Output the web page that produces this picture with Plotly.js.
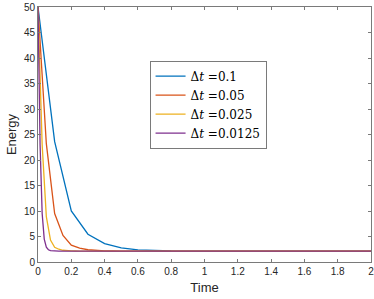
<!DOCTYPE html>
<html>
<head>
<meta charset="utf-8">
<script src="https://cdn.plot.ly/plotly-3.0.1.min.js"></script>
<style>html,body{margin:0;padding:0;background:#fff;}#chart{width:374px;height:299px;}</style>
</head>
<body>
<div id="chart"></div>
<script>
// Energy vs time for several time steps
var t1 = [0, 0.1, 0.2, 0.3, 0.4, 0.5, 0.6, 0.7, 0.8, 0.9, 1.0, 2.0];
var e1 = [50, 23.6, 10.0, 5.45, 3.6, 2.75, 2.38, 2.22, 2.16, 2.15, 2.15, 2.15];

var t2 = [0, 0.05, 0.1, 0.15, 0.2, 0.25, 0.3, 0.35, 0.4, 0.45, 0.5, 2.0];
var e2 = [50, 23.2, 9.5, 5.2, 3.3, 2.7, 2.4, 2.25, 2.18, 2.16, 2.15, 2.15];

var t3 = [0, 0.025, 0.05, 0.075, 0.1, 0.125, 0.15, 0.175, 0.2, 0.225, 0.25, 2.0];
var e3 = [50, 23.0, 8.9, 4.3, 2.9, 2.5, 2.3, 2.2, 2.17, 2.16, 2.15, 2.15];

var t4 = [0, 0.0125, 0.025, 0.0375, 0.05, 0.0625, 0.075, 0.0875, 0.1, 0.1125, 0.125, 2.0];
var e4 = [50, 23.0, 9.5, 4.5, 2.9, 2.4, 2.22, 2.17, 2.16, 2.15, 2.15, 2.15];

var names = ['\u0394<i>t</i> =0.1', '\u0394<i>t</i> =0.05', '\u0394<i>t</i> =0.025', '\u0394<i>t</i> =0.0125'];
var colors = ['#0072BD', '#D95319', '#EDB120', '#7E2F8E'];

var xTicks = [0, 0.2, 0.4, 0.6, 0.8, 1, 1.2, 1.4, 1.6, 1.8, 2];
var xTickText = ['0', '0.2', '0.4', '0.6', '0.8', '1', '1.2', '1.4', '1.6', '1.8', '2'];
var yTicks = [0, 5, 10, 15, 20, 25, 30, 35, 40, 45, 50];

var xs = [t1, t2, t3, t4];
var ys = [e1, e2, e3, e4];
var traces = xs.map(function (x, i) {
  return {
    x: x, y: ys[i], type: 'scatter', mode: 'lines', name: names[i],
    line: {color: colors[i], width: 1.3}
  };
});

var axisCommon = {
  showgrid: false, zeroline: false, showline: true, mirror: 'allticks',
  linecolor: '#7a7a7a', linewidth: 1, ticks: 'inside', ticklen: 3,
  tickcolor: '#7a7a7a', tickwidth: 1, ticklabeloverflow: 'allow',
  tickfont: {family: 'Liberation Sans, Arial, sans-serif', size: 10, color: '#262626'}
};

var layout = {
  width: 374, height: 299,
  margin: {l: 37.5, r: 3, t: 6.5, b: 37},
  paper_bgcolor: '#fff', plot_bgcolor: '#fff',
  showlegend: true,
  legend: {
    x: 0.335, y: 0.79, xanchor: 'left', yanchor: 'top',
    bgcolor: '#fff', bordercolor: '#7a7a7a', borderwidth: 1,
    font: {family: 'DejaVu Serif, serif', size: 12, color: '#000'},
    tracegroupgap: 0, itemwidth: 30
  },
  xaxis: Object.assign({}, axisCommon, {
    range: [0, 2], tickvals: xTicks, ticktext: xTickText,
    title: {text: 'Time', font: {family: 'Liberation Sans, Arial, sans-serif', size: 13, color: '#262626'}, standoff: 6}
  }),
  yaxis: Object.assign({}, axisCommon, {
    range: [0, 50], tickvals: yTicks,
    title: {text: 'Energy', font: {family: 'Liberation Sans, Arial, sans-serif', size: 13, color: '#262626'}, standoff: 4}
  })
};

Plotly.newPlot('chart', traces, layout, {displayModeBar: false, staticPlot: true});
</script>
</body>
</html>
